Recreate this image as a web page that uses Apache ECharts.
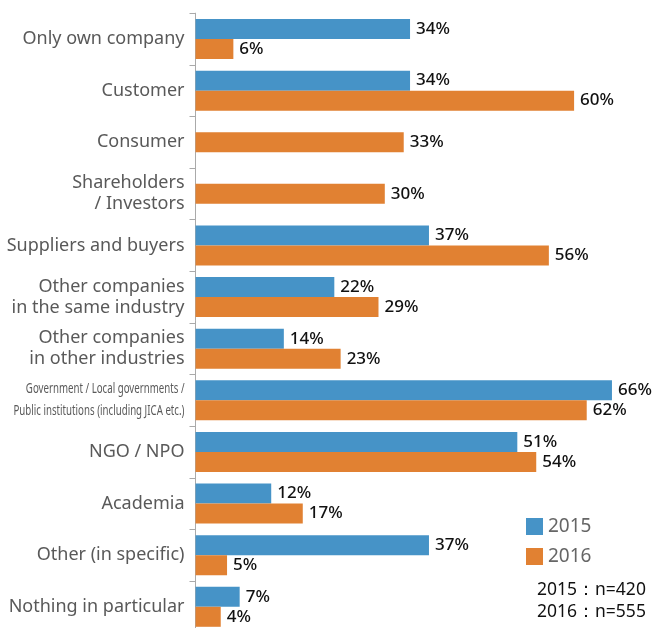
<!DOCTYPE html>
<html><head><meta charset="utf-8">
<script src="https://cdn.jsdelivr.net/npm/echarts@6/dist/echarts.min.js"></script>
<style>html,body{margin:0;padding:0;background:#fff}#c{width:664px;height:628px}</style>
</head><body><div id="c"></div>
<script>
const categories = ['Only own company','Customer','Consumer','Shareholders\n/ Investors','Suppliers and buyers','Other companies\nin the same industry','Other companies\nin other industries','Government / Local governments /\nPublic institutions (including JICA etc.)','NGO / NPO','Academia','Other (in specific)','Nothing in particular'];
const v2015 = [34,34,null,null,37,22,14,66,51,12,37,7];
const v2016 = [6,60,33,30,56,29,23,62,54,17,5,4];
const seriesNames = ['2015','2016'];
const noteLines = ['2015\uFF1An=420','2016\uFF1An=555'];
const condensedCategory = categories[7];

const BLUE = '#4693C7', ORANGE = '#E18132';
const paired2016 = v2016.map((v,i)=> v2015[i]==null ? null : v);
const solo2016 = v2016.map((v,i)=> v2015[i]==null ? v : null);
const lbl = {show:true, position:'right', distance:6, formatter:p=>p.value+'%', color:'#111', fontSize:17, fontWeight:500, fontFamily:'Noto Sans'};

const chart = echarts.init(document.getElementById('c'));
chart.setOption({
  animation:false,
  grid:{left:195.5, top:13.2, width:441.7, height:619.4, containLabel:false, outerBoundsMode:'none'},
  xAxis:{type:'value', min:0, max:70, show:false},
  yAxis:[{
    type:'category', inverse:true, data:categories,
    axisLine:{show:true, lineStyle:{color:'#aaa'}},
    axisTick:{show:true, length:6, lineStyle:{color:'#aaa'}},
    axisLabel:{margin:11, color:'#595959', fontSize:18, fontFamily:'Noto Sans', lineHeight:21, align:'right',
      formatter:v=> v === condensedCategory ? '' : v}
  },{
    type:'category', inverse:true, data:categories, show:false
  }],
  legend:{orient:'vertical', left:521, top:512, itemWidth:17, itemHeight:17, itemGap:11, icon:'rect',
    data:seriesNames, textStyle:{fontSize:19, color:'#666', fontFamily:'Noto Sans'}},
  series:[
    {name:seriesNames[0], type:'bar', yAxisIndex:0, data:v2015, barWidth:20, barGap:'0%', itemStyle:{color:BLUE}, label:lbl},
    {name:seriesNames[1], type:'bar', yAxisIndex:0, data:paired2016, barWidth:20, barGap:'0%', itemStyle:{color:ORANGE}, label:lbl},
    {name:seriesNames[1], type:'bar', yAxisIndex:1, data:solo2016, barWidth:20, itemStyle:{color:ORANGE}, label:lbl}
  ]
});

// condensed two-line category label (narrow font look), anchored to the axis category position
const ctx = document.createElement('canvas').getContext('2d');
const cfont = '14px "Noto Sans"';
ctx.font = cfont;
const lines = condensedCategory.split('\n');
const maxW = Math.max(...lines.map(s=>ctx.measureText(s).width));
const sx = 171 / maxW;
const cy = chart.convertToPixel({yAxisIndex:0}, condensedCategory);
const ax = chart.convertToPixel({xAxisIndex:0}, 0);
chart.setOption({
  graphic:[
    {type:'text', x: ax - 11, y: cy, scaleX: sx, style:{text:condensedCategory, x:0, y:0, align:'right', verticalAlign:'middle', fontSize:14, lineHeight:22, fill:'#595959', fontFamily:'Noto Sans'}},
    {type:'text', left:537, top:581, style:{text:noteLines[0], fontSize:17.5, fill:'#111', fontFamily:'Noto Sans'}},
    {type:'text', left:537, top:603, style:{text:noteLines[1], fontSize:17.5, fill:'#111', fontFamily:'Noto Sans'}}
  ]
});
</script></body></html>
